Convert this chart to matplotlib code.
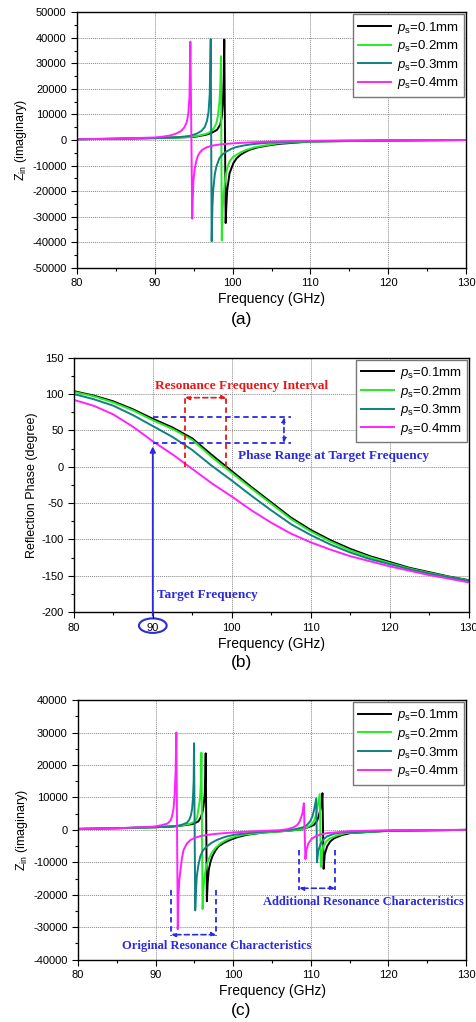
import numpy as np
import matplotlib
matplotlib.use('Agg')
import matplotlib.pyplot as plt
from matplotlib.patches import Ellipse
from matplotlib.ticker import MultipleLocator

plt.rcParams['font.family'] = ['Liberation Sans', 'DejaVu Sans']
plt.rcParams['mathtext.fontset'] = 'custom'
plt.rcParams['mathtext.rm'] = 'Liberation Sans'
plt.rcParams['mathtext.it'] = 'Liberation Sans:italic'
plt.rcParams['axes.unicode_minus'] = False

labels = ['0.1mm', '0.2mm', '0.3mm', '0.4mm']
colors = ['#000000', '#22ee22', '#108080', '#ff22ff']

# (a) imaginary Zin, one resonance
freq_a_01 = [80, 85, 90, 93, 95, 96.5, 97.3, 98, 98.4, 98.6, 98.75, 98.85, 98.92, 99.1, 99.2, 99.3, 99.6, 100.1, 100.5, 101, 101.6, 102.2, 103.2, 104.4, 106, 110, 120, 130]
zin_a_01 = [300, 500, 800, 1000, 1200, 2000, 2800, 4000, 6000, 9000, 15000, 24000, 39300, -32500, -25000, -19600, -13000, -9000, -7200, -5800, -4700, -3800, -2900, -2200, -1500, -600, -200, 0]
freq_a_02 = [80, 85, 90, 93, 94.6, 95.8, 96.7, 97.2, 97.6, 97.9, 98.1, 98.3, 98.42, 98.5, 98.6, 98.7, 98.8, 99.1, 99.3, 99.6, 100, 100.5, 101.1, 101.8, 102.8, 104, 106, 110, 120, 130]
zin_a_02 = [300, 500, 750, 1000, 1200, 1800, 2500, 3300, 4700, 6500, 9500, 15000, 22000, 32800, -39300, -28000, -22000, -14000, -11000, -8400, -6800, -5800, -4700, -3800, -2900, -2200, -1200, -600, -200, 0]
freq_a_03 = [80, 85, 90, 93, 94.5, 95.4, 96.0, 96.4, 96.7, 96.9, 97.05, 97.18, 97.3, 97.4, 97.5, 97.7, 97.9, 98.3, 98.7, 99.2, 99.8, 100.4, 101.5, 102.6, 104, 106, 110, 115, 120, 130]
zin_a_03 = [300, 500, 700, 1100, 1600, 2500, 3600, 5000, 7500, 11000, 18000, 39500, -39600, -26000, -19600, -13500, -10400, -7100, -5600, -4500, -3500, -2800, -2100, -1600, -1200, -800, -500, -300, -200, 0]
freq_a_04 = [80, 85, 90, 91, 92, 92.8, 93.4, 93.8, 94.1, 94.3, 94.45, 94.56, 94.8, 94.85, 94.95, 95.1, 95.3, 95.5, 95.8, 96.1, 96.7, 97.4, 98.2, 99.1, 100.6, 102.5, 104.9, 107, 110, 115, 120, 130]
zin_a_04 = [300, 500, 1000, 1300, 1800, 2600, 3600, 5000, 7000, 10500, 17000, 38500, -30800, -25000, -16000, -11700, -8500, -6400, -4800, -3800, -2800, -2200, -1800, -1500, -1200, -900, -600, -450, -300, -150, -100, 0]

# (b) reflection phase
freq_b = [80, 82.5, 85, 87.5, 90, 92.5, 95, 97.5, 100, 102.5, 105, 107.5, 110, 112.5, 115, 117.5, 120, 122.5, 125, 127.5, 130]
phase_01 = [104, 98, 90, 79, 66, 54, 39, 16, -6, -28, -49, -70, -87, -101, -113, -123, -131, -139, -145, -151, -156]
phase_02 = [103, 97, 88.5, 77.5, 64, 52, 37, 13, -8.5, -30, -51, -72, -89, -103, -115, -124.5, -132.5, -140, -146, -151.5, -156.5]
phase_03 = [100, 93, 84, 71, 56, 41, 23, 1, -19, -40, -60, -79, -94, -107, -118, -127, -134, -141, -147, -152, -157]
phase_04 = [92, 84, 72, 55, 35, 17, -3, -23, -41, -60, -77, -92, -104, -114, -123, -130, -137, -143, -149, -154, -159]

# (c) imaginary Zin, two resonances
freq_c_01 = [80, 85, 90, 93, 94.8, 95.5, 95.8, 96, 96.15, 96.3, 96.38, 96.45, 96.6, 96.7, 96.85, 97.05, 97.3, 97.7, 98.1, 98.8, 99.6, 100.6, 101.8, 104, 107, 109, 110.4, 110.8, 111, 111.2, 111.35, 111.5, 111.65, 111.8, 112.1, 112.5, 113, 114, 115.1, 120, 130]
zin_c_01 = [300, 500, 800, 1200, 1800, 2600, 3800, 5100, 7000, 10000, 15000, 23600, -22000, -16500, -12300, -10000, -8200, -6400, -5100, -4000, -3100, -2200, -1500, -800, -300, 200, 1500, 2800, 4100, 6000, 8000, 11300, -12000, -7500, -5100, -3600, -2600, -1600, -1000, -300, 0]
freq_c_02 = [80, 85, 90, 93, 94.3, 95.1, 95.35, 95.5, 95.65, 95.75, 95.85, 95.9, 96.05, 96.15, 96.3, 96.5, 96.8, 97.2, 97.7, 98.4, 99.2, 100.2, 101.3, 104, 107, 109, 109.7, 110.2, 110.5, 110.7, 110.9, 111.15, 111.3, 111.45, 111.6, 112, 112.5, 113.4, 114.5, 120, 130]
zin_c_02 = [300, 500, 800, 1200, 1800, 2600, 4000, 6200, 8500, 11000, 16000, 23800, -24400, -18500, -14400, -11500, -9200, -7200, -5600, -4100, -3000, -2100, -1500, -800, -300, 200, 1000, 1800, 3200, 5100, 7500, 11000, -11400, -7500, -5100, -3500, -2600, -1700, -1000, -300, 0]
freq_c_03 = [80, 85, 89, 92.3, 93.3, 94.05, 94.35, 94.55, 94.7, 94.8, 94.9, 94.95, 95.1, 95.2, 95.3, 95.5, 95.75, 96.1, 96.6, 97.2, 97.9, 98.9, 100.1, 103, 106, 108, 109, 109.5, 109.9, 110.2, 110.45, 110.7, 110.8, 110.95, 111.3, 111.7, 112.1, 113, 114, 120, 130]
zin_c_03 = [300, 500, 800, 1000, 1500, 2200, 3200, 4500, 6500, 9500, 15000, 26700, -24800, -18500, -14400, -11000, -8200, -6300, -5100, -4000, -3100, -2200, -1500, -700, -300, 200, 800, 1500, 2600, 4100, 6500, 9700, -10000, -6500, -4100, -2800, -2000, -1200, -800, -300, 0]
freq_c_04 = [80, 85, 88, 89.75, 90.7, 91.5, 91.9, 92.1, 92.3, 92.45, 92.57, 92.67, 92.85, 92.95, 93.05, 93.2, 93.4, 93.6, 94, 94.5, 95.1, 95.8, 96.8, 97.9, 100, 103, 106, 107, 107.8, 108.2, 108.5, 108.75, 108.95, 109.1, 109.3, 109.45, 109.7, 110.1, 110.6, 111.3, 112.1, 115, 120, 130]
zin_c_04 = [300, 500, 800, 1000, 1400, 1900, 2800, 4100, 6500, 11000, 18000, 30000, -30600, -20000, -15500, -12300, -8500, -6200, -4300, -3100, -2400, -1900, -1500, -1200, -800, -400, -100, 200, 800, 1400, 2300, 3800, 5500, 8200, -9000, -6000, -4100, -2800, -2000, -1400, -1000, -400, -100, 0]

x_ticks = [80, 90, 100, 110, 120, 130]

fig = plt.figure(figsize=(4.76, 10.22), dpi=100)
ax_a = fig.add_axes([0.162, 0.738, 0.817, 0.250])
ax_b = fig.add_axes([0.155, 0.401, 0.830, 0.249])
ax_c = fig.add_axes([0.164, 0.061, 0.815, 0.254])

blue = '#2a2ae0'
red = '#ee1515'
serif = ['Liberation Serif', 'DejaVu Serif']
dash = (0, (3, 2))


def style_axis(ax, ymin, ymax, ystep, ylabel):
  ax.set_xlim(80, 130)
  ax.set_ylim(ymin, ymax)
  ax.set_xticks(x_ticks)
  ax.xaxis.set_minor_locator(MultipleLocator(5))
  ax.yaxis.set_major_locator(MultipleLocator(ystep))
  ax.yaxis.set_minor_locator(MultipleLocator(ystep / 2))
  ax.tick_params(which='both', direction='out', labelsize=8, top=False, right=False)
  ax.tick_params(which='major', length=4, width=0.8)
  ax.tick_params(which='minor', length=2.5, width=0.8)
  ax.grid(True, which='major', color='#888888', linestyle=(0, (1, 1)), linewidth=0.7)
  ax.set_xlabel('Frequency (GHz)', fontsize=10, labelpad=3)
  ax.set_ylabel(ylabel, fontsize=9, labelpad=2)
  for s in ax.spines.values():
    s.set_linewidth(1.0)
  ax.legend(loc='upper right', fontsize=9.5, handlelength=2.5, labelspacing=0.2,
            borderaxespad=0.15, fancybox=False, edgecolor='#777777', framealpha=1,
            handletextpad=0.4, borderpad=0.4)


for fx, zy, lab, col in zip([freq_a_01, freq_a_02, freq_a_03, freq_a_04],
                            [zin_a_01, zin_a_02, zin_a_03, zin_a_04], labels, colors):
  ax_a.plot(fx, zy, color=col, lw=1.4, label=r'$p_\mathrm{s}$=' + lab)
style_axis(ax_a, -50000, 50000, 10000, r'Z$_\mathrm{in}$ (imaginary)')

for py, lab, col in zip([phase_01, phase_02, phase_03, phase_04], labels, colors):
  ax_b.plot(freq_b, py, color=col, lw=1.4, label=r'$p_\mathrm{s}$=' + lab)
style_axis(ax_b, -200, 150, 50, 'Reflection Phase (degree)')

for fx, zy, lab, col in zip([freq_c_01, freq_c_02, freq_c_03, freq_c_04],
                            [zin_c_01, zin_c_02, zin_c_03, zin_c_04], labels, colors):
  ax_c.plot(fx, zy, color=col, lw=1.4, label=r'$p_\mathrm{s}$=' + lab)
style_axis(ax_c, -40000, 40000, 10000, r'Z$_\mathrm{in}$ (imaginary)')

# annotations (b)
ax_b.plot([94.1, 94.1], [0, 100], color=red, lw=1.3, ls=dash)
ax_b.plot([99.3, 99.3], [0, 100], color=red, lw=1.3, ls=dash)
ax_b.annotate('', xy=(94.1, 95), xytext=(99.3, 95),
              arrowprops=dict(arrowstyle='<|-|>', color=red, lw=1.2, ls=dash, mutation_scale=6, shrinkA=0, shrinkB=0))
ax_b.text(90.3, 111, 'Resonance Frequency Interval', color=red, fontsize=9.5,
          fontweight='bold', family=serif, va='center')
ax_b.plot([90, 107.5], [68, 68], color=blue, lw=1.3, ls=dash)
ax_b.plot([90, 107.5], [33, 33], color=blue, lw=1.3, ls=dash)
ax_b.annotate('', xy=(106.6, 68), xytext=(106.6, 33),
              arrowprops=dict(arrowstyle='<|-|>', color=blue, lw=1.2, ls=dash, mutation_scale=6, shrinkA=0, shrinkB=0))
ax_b.text(100.8, 15, 'Phase Range at Target Frequency', color=blue, fontsize=9.5,
          fontweight='bold', family=serif, va='center')
ax_b.annotate('', xy=(90, 28), xytext=(90, -205), annotation_clip=False,
              arrowprops=dict(arrowstyle='-|>', color=blue, lw=1.3, mutation_scale=8, shrinkA=0, shrinkB=0))
ax_b.add_patch(Ellipse((90, -218.5), 3.5, 20, fill=False, edgecolor=blue, lw=1.5, clip_on=False))
ax_b.text(90.5, -176, 'Target Frequency', color=blue, fontsize=9.5,
          fontweight='bold', family=serif, va='center')

# annotations (c)
ax_c.plot([92.0, 92.0], [-18500, -32800], color=blue, lw=1.3, ls=dash)
ax_c.plot([97.8, 97.8], [-18500, -32800], color=blue, lw=1.3, ls=dash)
ax_c.annotate('', xy=(92.0, -32300), xytext=(97.8, -32300),
              arrowprops=dict(arrowstyle='<|-|>', color=blue, lw=1.2, ls=dash, mutation_scale=6, shrinkA=0, shrinkB=0))
ax_c.text(85.7, -35900, 'Original Resonance Characteristics', color=blue, fontsize=9,
          fontweight='bold', family=serif, va='center')
ax_c.plot([108.5, 108.5], [-6150, -18500], color=blue, lw=1.3, ls=dash)
ax_c.plot([113.1, 113.1], [-6150, -18500], color=blue, lw=1.3, ls=dash)
ax_c.annotate('', xy=(108.5, -18000), xytext=(113.1, -18000),
              arrowprops=dict(arrowstyle='<|-|>', color=blue, lw=1.2, ls=dash, mutation_scale=6, shrinkA=0, shrinkB=0))
ax_c.text(103.8, -22250, 'Additional Resonance Characteristics', color=blue, fontsize=9,
          fontweight='bold', family=serif, va='center')

fig.text(0.507, 0.687, '(a)', fontsize=12.5, ha='center', va='center')
fig.text(0.507, 0.352, '(b)', fontsize=12.5, ha='center', va='center')
fig.text(0.507, 0.011, '(c)', fontsize=12.5, ha='center', va='center')

fig.savefig('out.png', dpi=100)
